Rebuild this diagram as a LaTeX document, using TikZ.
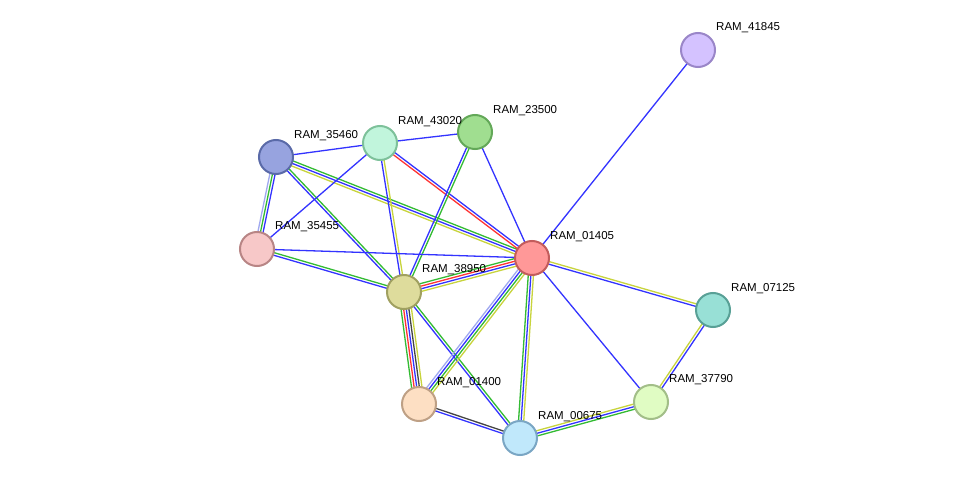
\documentclass[tikz,border=0pt]{standalone}
\usepackage{fontspec}
\setmainfont{Liberation Sans}
\usetikzlibrary{calc}
\definecolor{eB}{HTML}{3333FF}
\definecolor{eG}{HTML}{33BB33}
\definecolor{eY}{HTML}{C8D43C}
\definecolor{eR}{HTML}{FF3333}
\definecolor{eL}{HTML}{A0A8F0}
\definecolor{eK}{HTML}{444444}
\newcommand{\medge}[3]{%
  \foreach \c [count=\i] in {#3} {\xdef\nn{\i}}%
  \foreach \c [count=\i] in {#3} {%
    \pgfmathsetmacro{\off}{(\i-(\nn+1)/2)*2.6}%
    \draw[\c,line width=1.3pt] ($(#1)!\off pt!90:(#2)$) -- ($(#2)!\off pt!-90:(#1)$);
  }}
\tikzset{x=1pt,y=-1pt,
  prot/.style={circle,minimum size=34pt,inner sep=0pt,line width=2pt},
  lab/.style={anchor=west,font=\fontsize{11.5}{13}\selectfont,inner sep=0pt}}
\begin{document}
\begin{tikzpicture}
\useasboundingbox[fill=white] (0,0) rectangle (975,484);
\coordinate (a41845) at (698,50);
\coordinate (a35460) at (276,157);
\coordinate (a43020) at (380,143);
\coordinate (a23500) at (475,132);
\coordinate (a35455) at (257,249);
\coordinate (a01405) at (532,258);
\coordinate (a38950) at (404,292);
\coordinate (a07125) at (713,310);
\coordinate (a37790) at (651,402);
\coordinate (a01400) at (419,404);
\coordinate (a00675) at (520,438);
\medge{a41845}{a01405}{eB}
\medge{a35460}{a43020}{eB}
\medge{a43020}{a23500}{eB}
\medge{a35460}{a35455}{eL,eG,eB}
\medge{a35460}{a01405}{eY,eB,eG}
\medge{a35460}{a38950}{eB,eG}
\medge{a43020}{a35455}{eB}
\medge{a43020}{a38950}{eB,eY}
\medge{a43020}{a01405}{eR,eB}
\medge{a23500}{a38950}{eB,eG}
\medge{a23500}{a01405}{eB}
\medge{a35455}{a01405}{eB}
\medge{a35455}{a38950}{eB,eG}
\medge{a38950}{a01405}{eY,eB,eR,eG}
\medge{a38950}{a01400}{eG,eR,eB,eK,eY}
\medge{a38950}{a00675}{eB,eG}
\medge{a01405}{a01400}{eL,eB,eG,eY}
\medge{a01405}{a00675}{eG,eB,eY}
\medge{a01405}{a37790}{eB}
\medge{a01405}{a07125}{eB,eY}
\medge{a07125}{a37790}{eY,eB}
\medge{a01400}{a00675}{eB,eK}
\medge{a00675}{a37790}{eG,eB,eY}
\node[prot,fill={rgb,255:red,212;green,194;blue,255},draw={rgb,255:red,154;green,134;blue,200}] (n41845) at (a41845) {};
\node[prot,fill={rgb,255:red,151;green,163;blue,223},draw={rgb,255:red,90;green,106;blue,168}] (n35460) at (a35460) {};
\node[prot,fill={rgb,255:red,193;green,245;blue,220},draw={rgb,255:red,125;green,193;blue,154}] (n43020) at (a43020) {};
\node[prot,fill={rgb,255:red,160;green,222;blue,144},draw={rgb,255:red,99;green,168;blue,88}] (n23500) at (a23500) {};
\node[prot,fill={rgb,255:red,247;green,200;blue,200},draw={rgb,255:red,184;green,133;blue,133}] (n35455) at (a35455) {};
\node[prot,fill={rgb,255:red,255;green,152;blue,152},draw={rgb,255:red,195;green,92;blue,92}] (n01405) at (a01405) {};
\node[prot,fill={rgb,255:red,222;green,220;blue,156},draw={rgb,255:red,160;green,160;blue,96}] (n38950) at (a38950) {};
\node[prot,fill={rgb,255:red,152;green,224;blue,214},draw={rgb,255:red,88;green,160;blue,150}] (n07125) at (a07125) {};
\node[prot,fill={rgb,255:red,224;green,252;blue,195},draw={rgb,255:red,162;green,190;blue,136}] (n37790) at (a37790) {};
\node[prot,fill={rgb,255:red,253;green,223;blue,195},draw={rgb,255:red,190;green,160;blue,133}] (n01400) at (a01400) {};
\node[prot,fill={rgb,255:red,192;green,232;blue,251},draw={rgb,255:red,122;green,166;blue,196}] (n00675) at (a00675) {};
\node[lab] (l41845) at (716,28) {RAM\_41845};
\node[lab] (l35460) at (294,136) {RAM\_35460};
\node[lab] (l43020) at (398,122) {RAM\_43020};
\node[lab] (l23500) at (493,111) {RAM\_23500};
\node[lab] (l35455) at (275,227) {RAM\_35455};
\node[lab] (l01405) at (550,237) {RAM\_01405};
\node[lab] (l38950) at (422,270) {RAM\_38950};
\node[lab] (l07125) at (731,289) {RAM\_07125};
\node[lab] (l37790) at (669,380) {RAM\_37790};
\node[lab] (l01400) at (437,383) {RAM\_01400};
\node[lab] (l00675) at (538,417) {RAM\_00675};
\end{tikzpicture}
\end{document}
